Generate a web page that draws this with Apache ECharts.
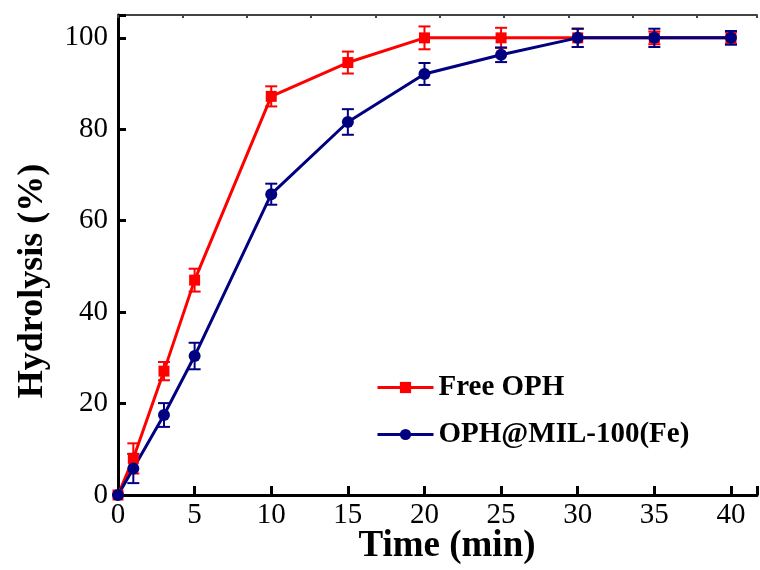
<!DOCTYPE html>
<html>
<head>
<meta charset="utf-8">
<script src="https://cdn.jsdelivr.net/npm/echarts@6/dist/echarts.min.js"></script>
<style>html,body{margin:0;padding:0;background:#fff}#c{width:760px;height:570px}</style>
</head>
<body>
<div id="c"></div>
<script>
var times = [0, 1, 3, 5, 10, 15, 20, 25, 30, 35, 40];
var freeOPH = [0, 8, 27.1, 47, 87.2, 94.6, 100, 100, 100, 100, 100];
var freeOPHErr = [0, 3.3, 2, 2.5, 2.2, 2.4, 2.5, 2.2, 2, 1.4, 1.3];
var mofOPH = [0, 5.8, 17.5, 30.4, 65.8, 81.6, 92.1, 96.3, 100, 100, 100];
var mofOPHErr = [0, 3.2, 2.6, 2.9, 2.3, 2.8, 2.4, 1.6, 2, 2, 1.5];
var seriesNames = ['Free OPH', 'OPH@MIL-100(Fe)'];
var colors = ['#ff0000', '#000080'];

function pts(ys) { return times.map(function (t, i) { return [t, ys[i]]; }); }
function errPts(ys, es) { return times.map(function (t, i) { return [t, ys[i] - es[i], ys[i] + es[i]]; }); }

function errorSeries(ys, es, color) {
  return {
    type: 'custom',
    silent: true,
    data: errPts(ys, es),
    encode: { x: 0, y: [1, 2] },
    renderItem: function (params, api) {
      var x = api.value(0);
      var lo = api.coord([x, api.value(1)]);
      var hi = api.coord([x, api.value(2)]);
      var hw = 6;
      var st = { stroke: color, lineWidth: 2, fill: null };
      return {
        type: 'group',
        children: [
          { type: 'line', shape: { x1: lo[0], y1: lo[1], x2: hi[0], y2: hi[1] }, style: st },
          { type: 'line', shape: { x1: lo[0] - hw, y1: lo[1], x2: lo[0] + hw, y2: lo[1] }, style: st },
          { type: 'line', shape: { x1: hi[0] - hw, y1: hi[1], x2: hi[0] + hw, y2: hi[1] }, style: st }
        ]
      };
    }
  };
}

var chart = echarts.init(document.getElementById('c'));
chart.setOption({
  animation: false,
  backgroundColor: '#fff',
  grid: { left: 118, top: 15, right: 0, bottom: 75, containLabel: false },
  xAxis: [{
    type: 'value', min: 0, max: 41.7, interval: 5,
    axisLine: { lineStyle: { color: '#000', width: 3 } },
    axisTick: { inside: true, length: 9, lineStyle: { color: '#000', width: 3 } },
    axisLabel: {
      margin: 6, color: '#000', fontFamily: 'Liberation Serif', fontSize: 29,
      formatter: function (v) { return (Math.abs(v % 5) < 1e-6) ? String(v) : ''; }
    },
    splitLine: { show: false }
  }, {
    type: 'value', position: 'top', min: 0, max: 41.7, interval: 4.2,
    axisLine: { show: true, lineStyle: { color: '#444', width: 2 } },
    axisTick: { show: true, inside: true, length: 3, lineStyle: { color: '#444', width: 2 } },
    axisLabel: { show: false },
    splitLine: { show: false }
  }],
  yAxis: {
    type: 'value', min: 0, max: 105, interval: 20,
    axisLine: { show: true, lineStyle: { color: '#000', width: 3 } },
    axisTick: { show: true, inside: true, length: 8, lineStyle: { color: '#000', width: 3 } },
    axisLabel: {
      margin: 10, color: '#000', fontFamily: 'Liberation Serif', fontSize: 29,
      formatter: function (v) { return (Math.abs(v % 20) < 1e-6) ? String(v) : ''; }
    },
    splitLine: { show: false }
  },
  legend: {
    orient: 'vertical', left: 371, top: 368,
    itemWidth: 56, itemHeight: 14, itemGap: 18,
    lineStyle: { width: 3 },
    textStyle: { fontFamily: 'Liberation Serif', fontWeight: 'bold', fontSize: 29, color: '#000' },
    data: seriesNames
  },
  graphic: [
    {
      type: 'text', x: 447, y: 546,
      style: { text: 'Time (min)', font: 'bold 37px "Liberation Serif"', fill: '#000', align: 'center', verticalAlign: 'middle' }
    },
    {
      type: 'text', x: 33, y: 281, rotation: Math.PI / 2,
      style: { text: 'Hydrolysis (%)', font: 'bold 36px "Liberation Serif"', fill: '#000', align: 'center', verticalAlign: 'middle' }
    }
  ],
  series: [
    errorSeries(freeOPH, freeOPHErr, colors[0]),
    {
      name: seriesNames[0], type: 'line', data: pts(freeOPH),
      symbol: 'rect', symbolSize: 11, showAllSymbol: true,
      lineStyle: { color: colors[0], width: 3 },
      itemStyle: { color: colors[0] }
    },
    errorSeries(mofOPH, mofOPHErr, colors[1]),
    {
      name: seriesNames[1], type: 'line', data: pts(mofOPH),
      symbol: 'circle', symbolSize: 12, showAllSymbol: true,
      lineStyle: { color: colors[1], width: 3 },
      itemStyle: { color: colors[1] }
    }
  ]
});
</script>
</body>
</html>
